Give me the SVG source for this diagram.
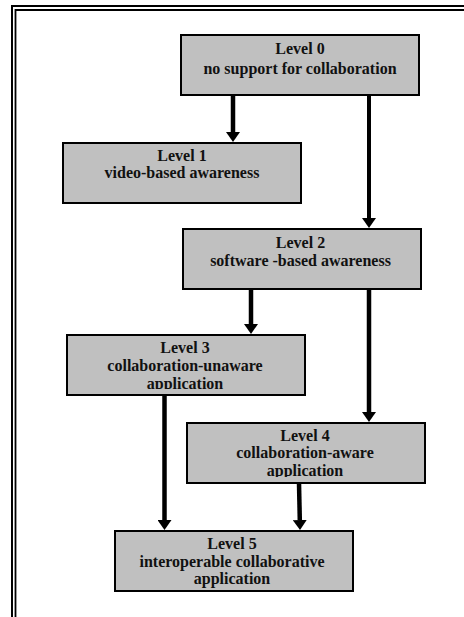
<svg xmlns="http://www.w3.org/2000/svg" width="464" height="617" viewBox="0 0 464 617">
  <style>
    .box { fill: #c0c0c0; stroke: #000; stroke-width: 2; }
    .lbl { font-family: "Liberation Serif", "Times New Roman", serif; font-size: 16px; font-weight: bold; fill: #111; text-anchor: middle; }
    .edge { stroke: #000; stroke-width: 4.5; fill: none; marker-end: url(#head); }
    .frame { stroke: #000; fill: none; }
  </style>
  <defs>
    <marker id="head" viewBox="0 0 10 14" refX="0" refY="7" markerWidth="10" markerHeight="14" markerUnits="userSpaceOnUse" orient="auto">
      <path d="M0,0 L10,7 L0,14 z" fill="#000"/>
    </marker>
    <clipPath id="clip3"><rect x="67" y="335" width="238" height="54"/></clipPath>
    <clipPath id="clip4"><rect x="187" y="423" width="238" height="54"/></clipPath>
  </defs>

  <rect width="464" height="617" fill="#fff"/>

  <!-- page frame: double rule along top and left -->
  <g id="frame">
    <path class="frame" stroke-width="2" d="M12,617 V6 H464"/>
    <path class="frame" stroke-width="1.8" d="M15.5,617 V10 H464"/>
  </g>

  <!-- connectors -->
  <g id="connectors">
    <line class="edge" x1="233" y1="95" x2="233" y2="132"/>
    <line class="edge" x1="369" y1="95" x2="369" y2="218" style="stroke-width:4"/>
    <line class="edge" x1="251" y1="289" x2="251" y2="324"/>
    <line class="edge" x1="369" y1="289" x2="369" y2="412"/>
    <line class="edge" x1="164.5" y1="395" x2="164.5" y2="520"/>
    <line class="edge" x1="299" y1="483" x2="299.8" y2="520"/>
  </g>

  <g id="level0">
    <rect class="box" x="181" y="35" width="238" height="60"/>
    <text class="lbl" x="300" y="54">Level 0</text>
    <text class="lbl" x="300" y="74">no support for collaboration</text>
  </g>

  <g id="level1">
    <rect class="box" x="63" y="143" width="238" height="60"/>
    <text class="lbl" x="182" y="160.7">Level 1</text>
    <text class="lbl" x="182" y="178.3">video-based awareness</text>
  </g>

  <g id="level2">
    <rect class="box" x="183" y="229" width="238" height="60"/>
    <text class="lbl" x="300.5" y="248.3">Level 2</text>
    <text class="lbl" x="300.5" y="266">software -based awareness</text>
  </g>

  <g id="level3">
    <rect class="box" x="67" y="335" width="238" height="60"/>
    <g clip-path="url(#clip3)">
      <text class="lbl" x="185" y="352.7">Level 3</text>
      <text class="lbl" x="185" y="370.7">collaboration-unaware</text>
      <text class="lbl" x="185" y="388.5">application</text>
    </g>
  </g>

  <g id="level4">
    <rect class="box" x="187" y="423" width="238" height="60"/>
    <g clip-path="url(#clip4)">
      <text class="lbl" x="305" y="440.7">Level 4</text>
      <text class="lbl" x="305" y="458.3">collaboration-aware</text>
      <text class="lbl" x="305" y="476.2">application</text>
    </g>
  </g>

  <g id="level5">
    <rect class="box" x="115" y="531" width="238" height="60"/>
    <text class="lbl" x="232" y="549.3">Level 5</text>
    <text class="lbl" x="232" y="567.3">interoperable collaborative</text>
    <text class="lbl" x="232" y="584">application</text>
  </g>
</svg>
